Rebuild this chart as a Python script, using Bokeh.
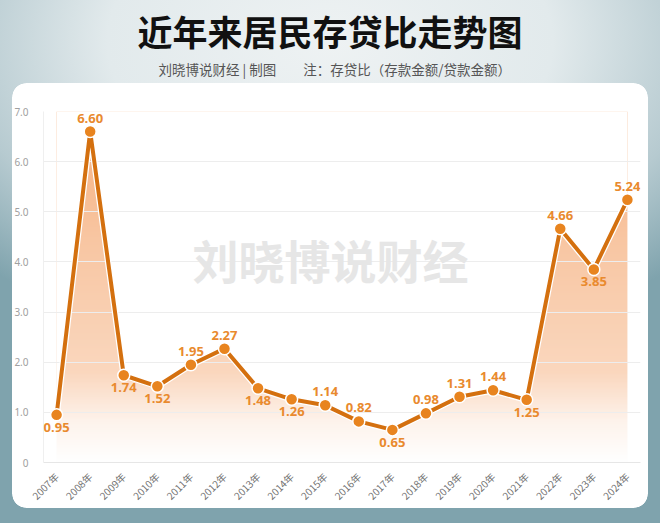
import numpy as np
from bokeh.plotting import figure
from bokeh.models import (ColumnDataSource, LabelSet, Label, Title,
                          FixedTicker, Range1d)
from bokeh.core.properties import value
from bokeh.embed import file_html
from bokeh.resources import INLINE

# ---------------- data ----------------
years = ["2007年", "2008年", "2009年", "2010年", "2011年", "2012年", "2013年",
         "2014年", "2015年", "2016年", "2017年", "2018年", "2019年", "2020年",
         "2021年", "2022年", "2023年", "2024年"]
ratios = [0.95, 6.60, 1.74, 1.52, 1.95, 2.27, 1.48, 1.26, 1.14, 0.82, 0.65,
          0.98, 1.31, 1.44, 1.25, 4.66, 3.85, 5.24]
label_side = ["below", "above", "below", "below", "above", "above", "below",
              "below", "above", "above", "below", "above", "above", "above",
              "below", "above", "below", "above"]
y_ticks = [0, 1, 2, 3, 4, 5, 6, 7]
y_tick_labels = ["0", "1.0", "2.0", "3.0", "4.0", "5.0", "6.0", "7.0"]

title_text = "近年来居民存贷比走势图"
subtitle_text = "刘晓博说财经 | 制图\u3000\u3000注：存贷比（存款金额/贷款金额）"
watermark_text = "刘晓博说财经"

# ---------------- figure ----------------
W, H = 660, 523
FL, FR, FT, FB = 43, 20, 111, 61

# background (outer gradient + rounded white card) via CSS layers
CL, CT, CW, CH, R = 12, 83, 636, 425, 14
corner = "radial-gradient(circle %dpx at %dpx %dpx, #fff %.1fpx, rgba(255,255,255,0) %dpx) no-repeat %dpx %dpx / %dpx %dpx"
layers = [
    "linear-gradient(#fff,#fff) no-repeat %dpx %dpx / %dpx %dpx" % (CL + R, CT, CW - 2 * R, CH),
    "linear-gradient(#fff,#fff) no-repeat %dpx %dpx / %dpx %dpx" % (CL, CT + R, CW, CH - 2 * R),
    corner % (R, R, R, R - 0.6, R, CL, CT, 2 * R, 2 * R),
    corner % (R, R, R, R - 0.6, R, CL + CW - 2 * R, CT, 2 * R, 2 * R),
    corner % (R, R, R, R - 0.6, R, CL, CT + CH - 2 * R, 2 * R, 2 * R),
    corner % (R, R, R, R - 0.6, R, CL + CW - 2 * R, CT + CH - 2 * R, 2 * R, 2 * R),
    "radial-gradient(ellipse 75% 60% at 50% 8%, #eef2f3 0%, #e2eaec 45%, #b6cad0 75%, #7fa3ad 100%)",
]

xs = list(range(len(years)))
p = figure(width=W, height=H, output_backend="svg", toolbar_location=None,
           x_range=Range1d(-0.39, 17.39), y_range=Range1d(0, 7),
           min_border_left=FL, min_border_right=FR,
           min_border_top=FT, min_border_bottom=FB)
p.border_fill_color = None
p.background_fill_color = None
p.outline_line_color = None
p.styles = {"background": ", ".join(layers)}

# titles (stacked upward from the plot frame: spacer, subtitle, title)
p.add_layout(Title(text=".", text_font_size="2px", standoff=29,
                   text_color="#ffffff", text_alpha=0.01), "above")
p.add_layout(Title(text=subtitle_text, align="left", offset=158 - FL,
                   text_font="Noto Sans CJK SC", text_font_size="13.5px",
                   text_font_style="normal", text_color="#555555",
                   standoff=2), "above")
p.add_layout(Title(text=title_text, align="left", offset=137 - FL,
                   text_font="Noto Sans CJK SC", text_font_size="35px",
                   text_font_style="bold", text_color="#111111",
                   standoff=-1), "above")

# gradient fill under the curve
ny = 280
yy = np.linspace(0, 7, ny)
t = np.interp(yy, [0, 0.8, 1.8, 4.5, 7.0], [0.0, 0.12, 0.42, 0.60, 0.85])
base = np.array([244, 160, 100])
rgb = 255 - t[:, None] * (255 - base[None, :])
img = np.zeros((ny, 2), dtype=np.uint32)
view = img.view(dtype=np.uint8).reshape((ny, 2, 4))
for c in range(3):
    view[:, :, c] = rgb[:, c][:, None].astype(np.uint8)
view[:, :, 3] = 255
p.image_rgba(image=[img], x=0, y=0, dw=len(years) - 1, dh=7, level="underlay")
src = ColumnDataSource(dict(x=xs, y=ratios, top=[7.5] * len(xs)))
p.varea(x="x", y1="y", y2="top", source=src, fill_color="white",
        level="underlay")

# axes
p.xaxis.ticker = FixedTicker(ticks=xs)
p.xaxis.major_label_overrides = {i: s for i, s in zip(xs, years)}
p.xaxis.major_label_orientation = np.pi / 4
p.xaxis.major_label_text_font = "Noto Sans CJK SC"
p.xaxis.major_label_text_font_size = "10px"
p.xaxis.major_label_text_color = "#707070"
p.xaxis.major_label_standoff = 6
p.xaxis.axis_line_color = "#e6e6e6"
p.xaxis.major_tick_line_color = None
p.xaxis.minor_tick_line_color = None

p.yaxis.ticker = FixedTicker(ticks=y_ticks)
p.yaxis.major_label_overrides = {v: s for v, s in zip(y_ticks, y_tick_labels)}
p.yaxis.major_label_text_font = "Noto Sans"
p.yaxis.major_label_text_font_size = "10px"
p.yaxis.major_label_text_color = "#a0a0a0"
p.yaxis.major_label_standoff = 9
p.yaxis.axis_line_color = "#efefef"
p.yaxis.major_tick_line_color = None
p.yaxis.minor_tick_line_color = None

p.xgrid.grid_line_color = None
p.ygrid.grid_line_color = "#ededed"
p.ygrid.grid_line_width = 1

# line and markers
p.line("x", "y", source=src, line_color="white", line_width=6.5)
p.line("x", "y", source=src, line_color="#d4700f", line_width=4)
p.scatter("x", "y", source=src, size=12, fill_color="#e8841f",
          line_color="white", line_width=1.5)

# value labels
above = [i for i, s in enumerate(label_side) if s == "above"]
below = [i for i, s in enumerate(label_side) if s == "below"]
src_a = ColumnDataSource(dict(x=[xs[i] for i in above], y=[ratios[i] for i in above],
                              lab=["%.2f" % ratios[i] for i in above]))
src_b = ColumnDataSource(dict(x=[xs[i] for i in below], y=[ratios[i] for i in below],
                              lab=["%.2f" % ratios[i] for i in below]))
common = dict(text_font=value("Open Sans"), text_font_size="13px",
              text_font_style="bold", text_color="#e98a2e", text_align="center")
p.add_layout(LabelSet(x="x", y="y", text="lab", source=src_a, y_offset=9,
                      text_baseline="bottom", **common))
p.add_layout(LabelSet(x="x", y="y", text="lab", source=src_b, y_offset=-8,
                      text_baseline="top", **common))

# watermark
p.add_layout(Label(x=330 - FL, y=(H - FB) - 258, x_units="screen", y_units="screen",
                   text=watermark_text, text_font="Noto Sans CJK SC",
                   text_font_size="46px", text_font_style="bold",
                   text_color="#e6e6e6", text_align="center",
                   text_baseline="middle", level="underlay"))

open("out.html", "w").write(file_html(p, INLINE))
